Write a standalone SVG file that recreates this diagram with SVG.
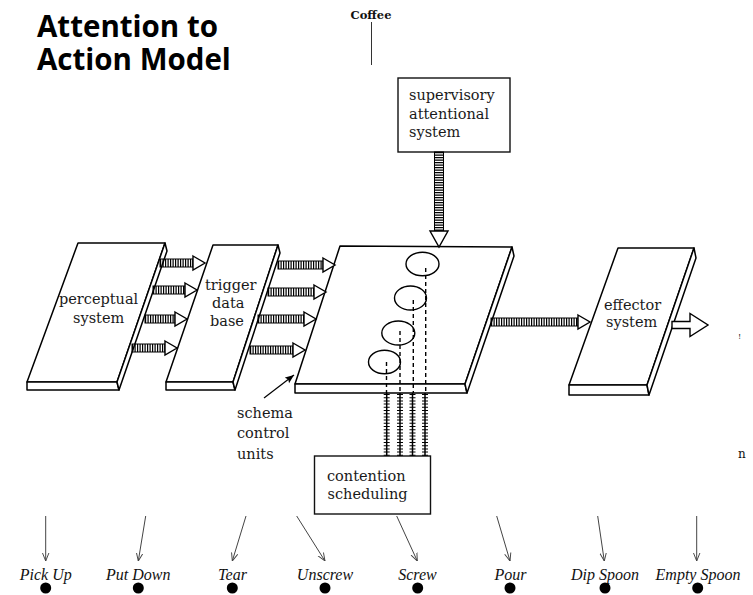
<svg xmlns="http://www.w3.org/2000/svg" width="753" height="595" viewBox="0 0 753 595">
  <defs>
    <style>
      .title { font-family: "Open Sans", "Liberation Sans", sans-serif; font-weight: 700; font-size: 29.5px; fill: #000; }
      .lbl { font-family: "DejaVu Serif", "Liberation Serif", serif; font-size: 14.5px; fill: #1a1a1a; }
      .act { font-family: "Liberation Serif", "Times New Roman", serif; font-style: italic; font-size: 16px; fill: #111; text-anchor: middle; }
      .slab { fill: #fff; stroke: #000; stroke-width: 1.5; stroke-linejoin: round; }
      .box { fill: #fff; stroke: #111; stroke-width: 1.4; }
      .hatch { stroke: #000; stroke-width: 8; stroke-dasharray: 1.2 1.3; fill: none; }
      .shaft { fill: none; stroke: #000; stroke-width: 1; }
      .head { fill: #fff; stroke: #000; stroke-width: 1.4; stroke-linejoin: miter; }
      .link { stroke: #000; stroke-width: 1.5; }
      .ticks { stroke: #000; stroke-width: 6; stroke-dasharray: 1 2.2; }
      .dash { stroke: #000; stroke-width: 1.4; stroke-dasharray: 4 3; fill: none; }
      .unit { fill: none; stroke: #000; stroke-width: 1.4; }
      .thin { stroke: #444; stroke-width: 1; fill: none; }
    </style>
    <marker id="vhead" viewBox="0 0 10 10" refX="10" refY="5" markerWidth="8" markerHeight="8" markerUnits="userSpaceOnUse" orient="auto">
      <path d="M0,1 L10,5 L0,9" fill="none" stroke="#444" stroke-width="1.2"/>
    </marker>
    <marker id="solid" viewBox="0 0 10 10" refX="10" refY="5" markerWidth="9" markerHeight="9" markerUnits="userSpaceOnUse" orient="auto">
      <path d="M0,1 L10,5 L0,9 L2,5 z" fill="#000"/>
    </marker>
  </defs>

  <rect width="753" height="595" fill="#fff"/>

  <!-- title -->
  <g id="title">
    <text class="title"><tspan x="37" y="37">Attention to</tspan><tspan x="37" y="70">Action Model</tspan></text>
  </g>

  <!-- goal at the top -->
  <g id="coffee">
    <text x="371" y="19" text-anchor="middle" font-family="DejaVu Serif, Liberation Serif, serif" font-weight="700" font-size="11.5" fill="#111">Coffee</text>
    <line x1="371.5" y1="22" x2="371.5" y2="65" stroke="#333" stroke-width="1"/>
  </g>

  <!-- supervisory attentional system -->
  <g id="sas">
    <rect class="box" x="398" y="78" width="112" height="74"/>
    <text class="lbl" x="409" y="100">supervisory</text>
    <text class="lbl" x="409" y="119">attentional</text>
    <text class="lbl" x="409" y="137">system</text>
  </g>

  <!-- perceptual system slab -->
  <g id="perceptual">
    <polygon class="slab" points="78,243 165,243 117,382 27,382"/>
    <polygon class="slab" points="27,382 117,382 119,390 27,390"/>
    <polygon class="slab" points="165,243 167,251 119,390 117,382"/>
    <text class="lbl" x="59" y="304">perceptual</text>
    <text class="lbl" x="73" y="323">system</text>
  </g>

  <!-- trigger data base slab -->
  <g id="trigger">
    <polygon class="slab" points="213,245 278,245 233,382 166,382"/>
    <polygon class="slab" points="166,382 233,382 235,390 166,390"/>
    <polygon class="slab" points="278,245 280,253 235,390 233,382"/>
    <text class="lbl" x="205" y="290">trigger</text>
    <text class="lbl" x="212" y="308">data</text>
    <text class="lbl" x="210" y="326">base</text>
  </g>

  <!-- schema control units slab -->
  <g id="schemas">
    <polygon class="slab" points="340,246 512,247 465,384 295,384"/>
    <polygon class="slab" points="295,384 465,384 467,393 295,393"/>
    <polygon class="slab" points="512,247 514,256 467,393 465,384"/>
    <ellipse class="unit" cx="422.5" cy="264" rx="16.5" ry="11.8"/>
    <ellipse class="unit" cx="410.5" cy="298" rx="16" ry="12"/>
    <ellipse class="unit" cx="398.3" cy="333" rx="16.5" ry="12"/>
    <ellipse class="unit" cx="384.5" cy="362" rx="16" ry="11.8"/>
    <line class="dash" x1="425.7" y1="268" x2="425.7" y2="393"/>
    <line class="dash" x1="413.3" y1="300" x2="413.3" y2="393"/>
    <line class="dash" x1="400" y1="331" x2="400" y2="393"/>
    <line class="dash" x1="386.5" y1="362" x2="386.5" y2="393"/>
  </g>

  <!-- effector system slab -->
  <g id="effector">
    <polygon class="slab" points="618,248 694,248 647,385 569,385"/>
    <polygon class="slab" points="569,385 647,385 649,395 569,395"/>
    <polygon class="slab" points="694,248 696,258 649,395 647,385"/>
    <text class="lbl" x="604" y="310">effector</text>
    <text class="lbl" x="606" y="327">system</text>
  </g>

  <!-- contention scheduling -->
  <g id="contention">
    <rect class="box" x="314.5" y="456" width="116" height="58"/>
    <text class="lbl" x="327" y="480.5">contention</text>
    <text class="lbl" x="327.5" y="499">scheduling</text>
  </g>

  <!-- label for the schema units -->
  <g id="schema-label">
    <text class="lbl" x="237" y="418">schema</text>
    <text class="lbl" x="237" y="438">control</text>
    <text class="lbl" x="237" y="459">units</text>
  </g>

  <!-- connectors -->
  <g id="connectors">
    <!-- supervisory system down to the schema units -->
    <line class="hatch" x1="439" y1="152" x2="439" y2="231" style="stroke-width:9"/>
    <rect class="shaft" x="434.5" y="152" width="9" height="79"/>
    <polygon class="head" points="430,231 448,231 439,247"/>

    <!-- perceptual system to trigger data base -->
    <line class="hatch" x1="160" y1="263" x2="193" y2="263"/>
    <rect class="shaft" x="160" y="259" width="33" height="8"/>
    <polygon class="head" points="193,256 205,263 193,270"/>
    <line class="hatch" x1="153" y1="290" x2="185" y2="290"/>
    <rect class="shaft" x="153" y="286" width="32" height="8"/>
    <polygon class="head" points="185,283 197,290 185,297"/>
    <line class="hatch" x1="145" y1="319" x2="175" y2="319"/>
    <rect class="shaft" x="145" y="315" width="30" height="8"/>
    <polygon class="head" points="175,312 187,319 175,326"/>
    <line class="hatch" x1="132" y1="348" x2="165" y2="348"/>
    <rect class="shaft" x="132" y="344" width="33" height="8"/>
    <polygon class="head" points="165,341 177,348 165,355"/>

    <!-- trigger data base to schema units -->
    <line class="hatch" x1="278" y1="265" x2="323" y2="265"/>
    <rect class="shaft" x="278" y="261" width="45" height="8"/>
    <polygon class="head" points="323,258 335,265 323,272"/>
    <line class="hatch" x1="268" y1="292" x2="314" y2="292"/>
    <rect class="shaft" x="268" y="288" width="46" height="8"/>
    <polygon class="head" points="314,285 326,292 314,299"/>
    <line class="hatch" x1="258" y1="319" x2="304" y2="319"/>
    <rect class="shaft" x="258" y="315" width="46" height="8"/>
    <polygon class="head" points="304,312 316,319 304,326"/>
    <line class="hatch" x1="250" y1="350" x2="293" y2="350"/>
    <rect class="shaft" x="250" y="346" width="43" height="8"/>
    <polygon class="head" points="293,343 305,350 293,357"/>

    <!-- schema units to effector system -->
    <line class="hatch" x1="491" y1="322" x2="578" y2="322"/>
    <rect class="shaft" x="491" y="318" width="87" height="8"/>
    <polygon class="head" points="578,315 590,322 578,329"/>

    <!-- effector output -->
    <polygon class="head" points="672,321.5 690,321.5 690,313.5 708,325 690,336.5 690,328.5 672,328.5"/>

    <!-- schema units to contention scheduling -->
    <line class="ticks" x1="386.7" y1="394" x2="386.7" y2="456"/>
    <line class="link" x1="386.7" y1="393" x2="386.7" y2="456"/>
    <line class="ticks" x1="400" y1="394" x2="400" y2="456"/>
    <line class="link" x1="400" y1="393" x2="400" y2="456"/>
    <line class="ticks" x1="412.5" y1="394" x2="412.5" y2="456"/>
    <line class="link" x1="412.5" y1="393" x2="412.5" y2="456"/>
    <line class="ticks" x1="425" y1="394" x2="425" y2="456"/>
    <line class="link" x1="425" y1="393" x2="425" y2="456"/>

    <!-- pointer to the schema units -->
    <line x1="264" y1="398" x2="294" y2="375" stroke="#000" stroke-width="1.2" marker-end="url(#solid)"/>

    <!-- down to the actions -->
    <line class="thin" x1="45.7" y1="516" x2="45.7" y2="561" marker-end="url(#vhead)"/>
    <line class="thin" x1="145.7" y1="516" x2="138.3" y2="561" marker-end="url(#vhead)"/>
    <line class="thin" x1="246" y1="516" x2="232.3" y2="561" marker-end="url(#vhead)"/>
    <line class="thin" x1="296.7" y1="516" x2="325" y2="561" marker-end="url(#vhead)"/>
    <line class="thin" x1="396.7" y1="516" x2="417.3" y2="561" marker-end="url(#vhead)"/>
    <line class="thin" x1="496.7" y1="516" x2="510" y2="561" marker-end="url(#vhead)"/>
    <line class="thin" x1="597.7" y1="516" x2="604.3" y2="561" marker-end="url(#vhead)"/>
    <line class="thin" x1="696.7" y1="516" x2="696.7" y2="561" marker-end="url(#vhead)"/>
  </g>

  <!-- action nodes -->
  <g id="act-pickup"><text class="act" x="45.7" y="579.5">Pick Up</text><circle cx="45.7" cy="588" r="5.5"/></g>
  <g id="act-putdown"><text class="act" x="138.3" y="579.5">Put Down</text><circle cx="138.3" cy="588" r="5.5"/></g>
  <g id="act-tear"><text class="act" x="232.5" y="579.5">Tear</text><circle cx="232.3" cy="588" r="5.5"/></g>
  <g id="act-unscrew"><text class="act" x="325" y="579.5">Unscrew</text><circle cx="325" cy="588" r="5.5"/></g>
  <g id="act-screw"><text class="act" x="417.5" y="579.5">Screw</text><circle cx="417.7" cy="588" r="5.5"/></g>
  <g id="act-pour"><text class="act" x="510.5" y="579.5">Pour</text><circle cx="510" cy="588" r="5.5"/></g>
  <g id="act-dipspoon"><text class="act" x="605" y="579.5">Dip Spoon</text><circle cx="605" cy="588" r="5.5"/></g>
  <g id="act-emptyspoon"><text class="act" x="698" y="579.5">Empty Spoon</text><circle cx="697.7" cy="588" r="5.5"/></g>

  <!-- stray marks at the right margin -->
  <text x="738" y="339" font-family="DejaVu Serif, serif" font-size="8" fill="#222">!</text>
  <text x="738" y="458" font-family="DejaVu Serif, serif" font-size="12" fill="#111">n</text>
</svg>
